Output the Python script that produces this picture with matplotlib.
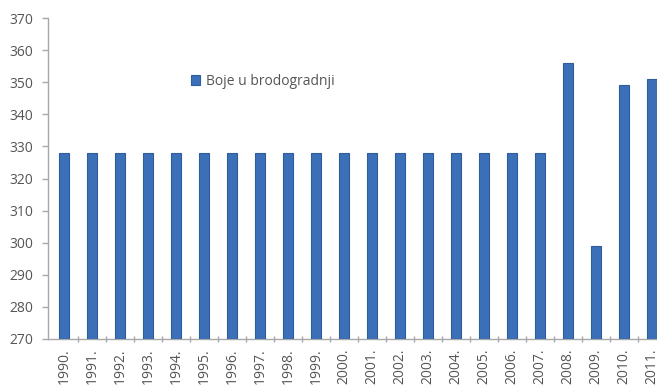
import matplotlib.pyplot as plt

years = [str(y) + "." for y in range(1990, 2012)]
values = [328, 328, 328, 328, 328, 328, 328, 328, 328, 328, 328,
          328, 328, 328, 328, 328, 328, 328, 356, 299, 349, 351]

plt.rcParams['font.family'] = ['Open Sans', 'DejaVu Sans']
txt = '#555555'
axc = '#a8a8a8'

fig = plt.figure(figsize=(6.57, 3.87), dpi=100)
ax = fig.add_axes([48/657, 1 - 339/387, 1 - 48/657, (339 - 18)/387])

x = list(range(len(years)))
ax.bar(x, values, width=0.36, bottom=0, color='#3b70b8', edgecolor='#2e5c9c',
       linewidth=0.8, label='Boje u brodogradnji', zorder=3)

ax.set_yticks(range(270, 371, 10))
ax.set_xticks(x)
ax.set_xticklabels(years, rotation=90)
ax.set_xticks([i + 0.5 for i in x], minor=True)
# limits last, set_xticks would widen them
ax.set_ylim(270, 370)
ax.set_xlim(-0.571, 21.18)

for s in ['top', 'right']:
    ax.spines[s].set_visible(False)
for s in ['left', 'bottom']:
    ax.spines[s].set_color(axc)
    ax.spines[s].set_linewidth(1.0)

ax.tick_params(axis='y', colors=axc, labelcolor=txt, labelsize=10, length=4.5, width=1, pad=6)
ax.tick_params(axis='x', which='major', length=0, labelcolor=txt, labelsize=10, pad=7)
ax.tick_params(axis='x', which='minor', colors=axc, length=4, width=1, direction='inout')

ax.legend(loc='upper left', bbox_to_anchor=(0.215, 0.865), frameon=False,
          fontsize=10, labelcolor=txt, handlelength=0.65, handleheight=0.65,
          handletextpad=0.4)

fig.savefig('out.png', dpi=100)
